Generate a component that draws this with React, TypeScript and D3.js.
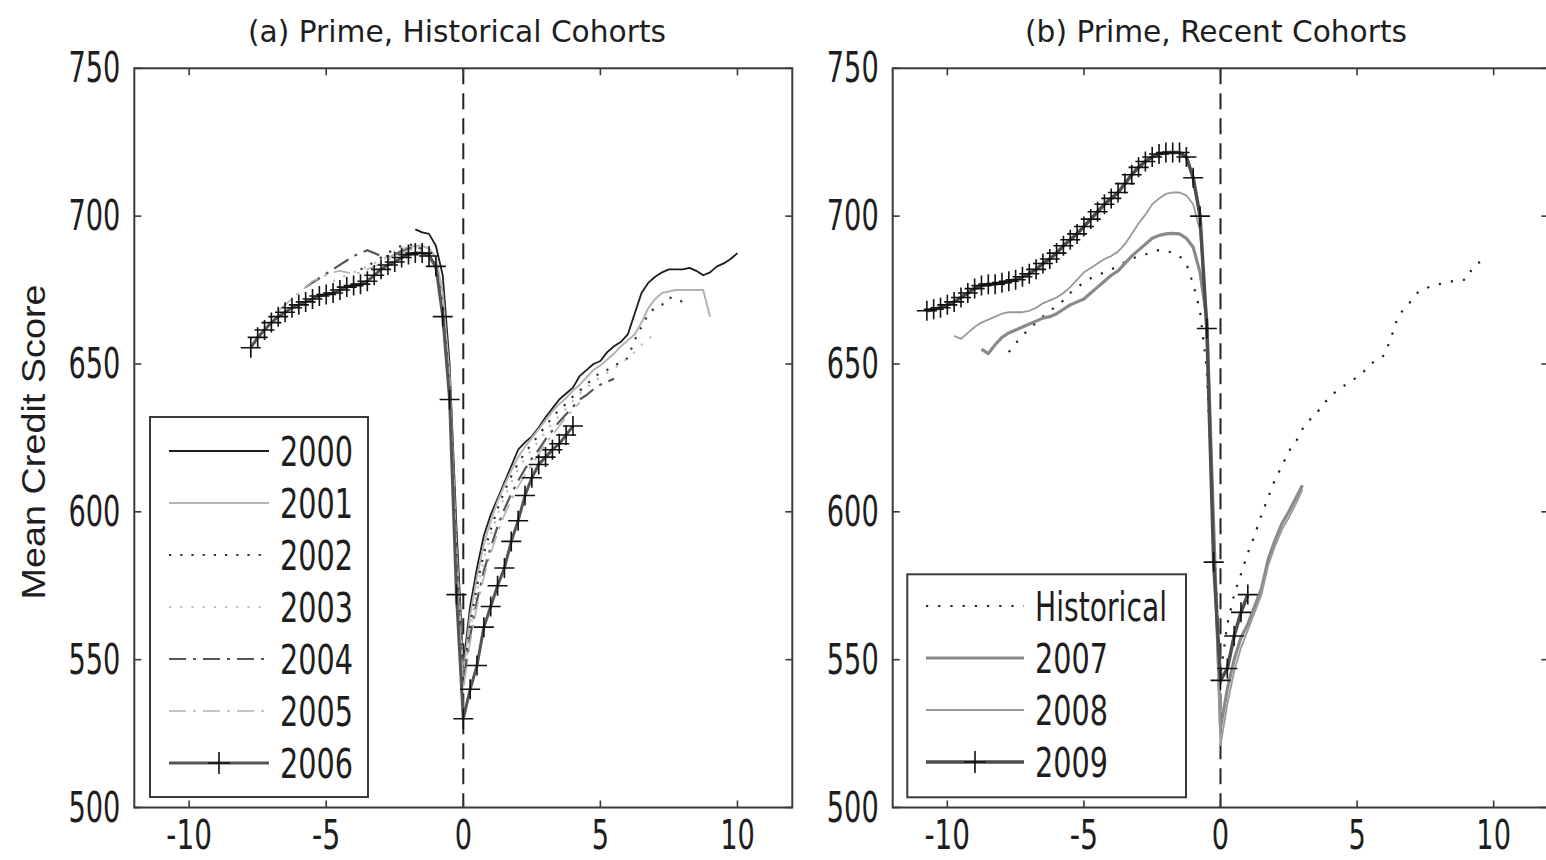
import React from 'react';
import * as d3 from 'd3';

// ---------- data (quarterly observations, years relative to default) ----------
const STEP = 0.25;
const X_TICKS = [-10, -5, 0, 5, 10];
const X_TICK_LABELS = ['-10', '-5', '0', '5', '10'];
const Y_TICKS = [500, 550, 600, 650, 700, 750];
const Y_TICK_LABELS = ['500', '550', '600', '650', '700', '750'];

const TITLE_A = '(a) Prime, Historical Cohorts';
const TITLE_B = '(b) Prime, Recent Cohorts';
const Y_LABEL = 'Mean Credit Score';

const COHORTS_A = ['2000', '2001', '2002', '2003', '2004', '2005', '2006'];
const STARTS_A = [-1.75, -2.75, -3.75, -4.75, -5.75, -6.75, -7.75];

const V2000 = [695.5, 694.5, 694, 690, 680, 650, 595, 548,
  568, 581, 592, 599, 604.5, 610, 615.5, 621, 623.5, 625.5, 628.5, 632, 635, 638, 640, 642,
  646, 648, 650, 651, 654, 656, 657.5, 660, 667, 674, 677.5, 679.5, 681, 682, 682, 682,
  682.5, 681.5, 680, 681, 683, 684, 685.5, 687.5];
const V2001 = [686, 687, 688.5, 689.5, 690, 690, 689, 686, 674, 646, 588, 545,
  565, 578, 589, 597, 603.5, 609, 614, 618.5, 622, 625, 628, 631, 634, 636.5, 638.5, 641,
  643, 645.5, 648, 649.5, 651.5, 653.5, 656, 658, 660, 664, 669, 672, 674, 674.5, 675, 675,
  675, 675, 675, 666];
const V2002 = [682, 683, 684.5, 686, 687.5, 689, 690, 690.5, 690, 689, 687.5, 683, 670, 642, 585, 543,
  562, 575, 586, 594, 601, 607, 612, 616.5, 620, 623, 626, 629, 632, 634.5, 636.5, 639,
  641, 643, 645.5, 647, 648, 649.5, 650.5, 652, 658, 662.5, 667, 669, 670, 672.5, 672, 671];
const V2003 = [678, 679, 680, 681, 682, 683, 684, 685, 686.5, 688, 689, 689.5, 689.5, 688.5, 686.5, 682,
  668, 640, 582, 541,
  560, 573, 584, 592, 599, 605, 610, 614.5, 618, 621, 624, 627, 630, 632.5, 635, 637.5,
  640, 642, 644, 645.5, 647, 648.5, 650, 652, 654, 656.5, 658.5, 660.5];
const V2004 = [676, 677.5, 679, 680.5, 682, 683.5, 685, 686.5, 687.5, 688.5, 687.5, 686.5, 686.5, 687, 688,
  689, 689.5, 689, 687, 683, 668, 640, 582, 542,
  558, 570, 580, 588, 595, 601, 606, 610.5, 614.5, 618, 621, 624.5, 627.5, 630.5, 633, 635.5,
  638, 639.5, 641.5, 643, 644, 645];
const V2005 = [668, 670, 672, 674, 676, 678, 679, 680, 681, 681.5, 681, 680.5, 681, 682, 683, 684, 685,
  686.5, 687.5, 688.5, 689, 688.5, 686.5, 682, 667, 640, 580, 540,
  556, 568, 578, 586, 593, 599, 604, 608.5, 612.5, 616, 619.5, 623, 626, 629, 632, 634.5, 637];
const V2006 = [655.5, 659, 661.5, 664, 666, 667.5, 669, 670, 671, 672, 673, 673.5, 674, 675, 676, 676.5,
  677, 678, 680, 682, 683.5, 684.5, 686, 687, 687.5, 687.5, 686.5, 683, 666, 638, 572, 530,
  540, 548, 561, 568, 575, 581, 590, 597, 605.5, 611.5, 616, 618.5, 621, 623, 626, 629];

const COHORTS_B = ['Historical', '2007', '2008', '2009'];
const STARTS_B = [-7.75, -8.75, -9.75, -10.75];

const VHIST = [654, 657, 659.5, 662, 664, 666, 668, 669.5, 671.5, 674, 676, 677.5, 679, 680, 681, 682,
  683, 684.5, 685.5, 686.5, 687, 688, 688.5, 688.5, 687.5, 686.5, 684, 677, 668, 648, 592, 545,
  562, 572, 579, 586, 592, 599, 605, 611, 615.5, 620.5, 623.5, 628, 631, 633, 636.5, 638.5,
  641, 642.5, 644, 645.5, 647.5, 650, 651.5, 653, 659, 666, 669, 671.5, 674.5, 675.5, 676.5,
  677, 677.5, 678, 678.4, 678.5, 683, 684.5, 686];
const V2007 = [655, 653.5, 656.5, 659, 660.5, 661.5, 662.5, 663.5, 664.5, 665.5, 666, 667, 668.5, 670,
  671, 672, 674, 676, 678, 680, 681.5, 684, 686.5, 688.5, 690.5, 692.5, 693.5, 694, 694.2, 694,
  692.5, 689.5, 681, 665, 595, 527,
  540, 550, 557.5, 562, 568, 574, 584, 590.5, 596, 600, 604.5, 609];
const V2008 = [659.5, 658.5, 660.5, 662.5, 664, 665, 666, 667, 667.5, 667.5, 667.5, 668, 669, 670.5,
  671.5, 672.5, 674, 676, 678.5, 681, 682.5, 684, 685.5, 686.5, 688, 690.5, 694, 697.5, 700.5,
  704, 706, 707.5, 708, 708, 707, 704, 695, 665, 592, 521,
  535, 546, 554, 560, 566, 572, 582, 588.5, 594, 598, 602.5, 607.5];
const V2009 = [668, 668.5, 669, 670, 671, 672.5, 674, 675.5, 676.5, 677, 677, 677.5, 678, 678.5, 679.5,
  680.5, 682, 684, 685.5, 687.5, 690, 692, 694, 696.5, 699, 701.5, 704, 706, 708, 711, 714,
  716.5, 718.5, 720, 721, 721.5, 721.5, 721.5, 720, 713, 700, 662, 583, 543,
  547, 558, 566, 572];

const VALUES_A = [V2000, V2001, V2002, V2003, V2004, V2005, V2006];
const VALUES_B = [VHIST, V2007, V2008, V2009];

// ---------- styles ----------
type Sty = { stroke: string; width: number; dash?: string; marker?: boolean };
const STYLES_A: Sty[] = [
  { stroke: '#1c1c1c', width: 1.8 },
  { stroke: '#b3b3b3', width: 2 },
  { stroke: '#333', width: 2.2, dash: '2.2 9' },
  { stroke: '#bdbdbd', width: 2.2, dash: '2.2 9' },
  { stroke: '#555', width: 2.2, dash: '17 7 3 7' },
  { stroke: '#b3b3b3', width: 1.7, dash: '17 7 3 7' },
  { stroke: '#555', width: 3, marker: true },
];
const STYLES_B: Sty[] = [
  { stroke: '#222', width: 2.2, dash: '2.2 10' },
  { stroke: '#8a8a8a', width: 3.2 },
  { stroke: '#999', width: 1.8 },
  { stroke: '#4d4d4d', width: 3.5, marker: true },
];

const NARROW = "'Liberation Sans Narrow', 'DejaVu Sans Condensed', 'Liberation Sans', sans-serif";
const REG = "'Liberation Sans', Arial, sans-serif";
const TXT = '#1e1e1e';
const FRAME = '#3a3a3a';

const yScale = d3.scaleLinear().domain([500, 750]).range([807.5, 68.3]);

function textW(s: string) {
  let w = 0;
  for (const c of s) w += c === '-' ? 11 : 17.3;
  return w;
}

function pts(start: number, vals: number[]): [number, number][] {
  return vals.map((v, i) => [start + i * STEP, v]);
}

function Plus({ x, y, s = 10 }: { x: number; y: number; s?: number }) {
  return <path d={`M${x - s},${y}H${x + s}M${x},${y - s}V${y + s}`} stroke="#111" strokeWidth={1.6} fill="none" />;
}

function Panel({ x0, x1, title, titleX, titleLen, names, starts, values, styles, legend }: any) {
  const x = d3.scaleLinear().domain([-12, 12]).range([x0, x1]);
  const y = yScale;
  const top = y(750), bot = y(500);
  const line = d3.line<[number, number]>().x(d => x(d[0])).y(d => y(d[1]));
  const clipId = 'clip' + Math.round(x0);
  return (
    <g>
      <defs>
        <clipPath id={clipId}><rect x={x0} y={top} width={x1 - x0} height={bot - top} /></clipPath>
      </defs>
      <text x={titleX} y={41.5} fontFamily={NARROW} fontSize={31} fill={TXT} textAnchor="middle"
        textLength={titleLen} lengthAdjust="spacingAndGlyphs">{title}</text>
      {/* zero line */}
      <line x1={x(0)} x2={x(0)} y1={top} y2={bot} stroke="#222" strokeWidth={2} strokeDasharray="16 9" />
      <g clipPath={`url(#${clipId})`}>
        {values.map((vals: number[], i: number) => {
          const st: Sty = styles[i];
          const p = pts(starts[i], vals);
          return (
            <g key={names[i]}>
              <path d={line(p) || ''} fill="none" stroke={st.stroke} strokeWidth={st.width}
                strokeDasharray={st.dash} strokeLinejoin="round" />
              {st.marker && p.map((d, j) => <Plus key={j} x={x(d[0])} y={y(d[1])} />)}
            </g>
          );
        })}
      </g>
      {/* frame */}
      <rect x={x0} y={top} width={x1 - x0} height={bot - top} fill="none" stroke={FRAME} strokeWidth={2} />
      {X_TICKS.map((t, i) => (
        <g key={'xt' + t}>
          <line x1={x(t)} x2={x(t)} y1={bot} y2={bot - 7} stroke={FRAME} strokeWidth={1.6} />
          <line x1={x(t)} x2={x(t)} y1={top} y2={top + 7} stroke={FRAME} strokeWidth={1.6} />
          <text x={x(t)} y={849} fontFamily={NARROW} fontSize={40} fill={TXT} textAnchor="middle"
            textLength={textW(X_TICK_LABELS[i])} lengthAdjust="spacingAndGlyphs">{X_TICK_LABELS[i]}</text>
        </g>
      ))}
      {Y_TICKS.map((t, i) => (
        <g key={'yt' + t}>
          <line x1={x0} x2={x0 + 7} y1={y(t)} y2={y(t)} stroke={FRAME} strokeWidth={1.6} />
          <line x1={x1} x2={x1 - 7} y1={y(t)} y2={y(t)} stroke={FRAME} strokeWidth={1.6} />
          <text x={x0 - 14} y={y(t) + 14} fontFamily={NARROW} fontSize={42} fill={TXT} textAnchor="end"
            textLength={textW(Y_TICK_LABELS[i])} lengthAdjust="spacingAndGlyphs">{Y_TICK_LABELS[i]}</text>
        </g>
      ))}
      {/* legend */}
      <g>
        <rect x={legend.x} y={legend.y} width={legend.w} height={legend.h} fill="#fff" stroke={FRAME} strokeWidth={2} />
        {names.map((n: string, i: number) => {
          const st: Sty = styles[i];
          const ly = legend.first + i * legend.gap;
          return (
            <g key={'lg' + n}>
              <line x1={legend.lx1} x2={legend.lx2} y1={ly} y2={ly} stroke={st.stroke} strokeWidth={st.width}
                strokeDasharray={st.dash} />
              {st.marker && <Plus x={(legend.lx1 + legend.lx2) / 2} y={ly} s={11} />}
              <text x={legend.tx} y={ly + 14.5} fontFamily={NARROW} fontSize={41} fill={TXT}
                textLength={n === 'Historical' ? 132 : 73} lengthAdjust="spacingAndGlyphs">{n}</text>
            </g>
          );
        })}
      </g>
    </g>
  );
}

export default function App() {
  return (
    <svg width={1546} height={860} style={{ position: 'absolute', left: 0, top: 0, background: '#fff' }}>
      <rect x={0} y={0} width={1546} height={860} fill="#fff" />
      <text transform="translate(45,442) rotate(-90)" fontFamily={REG} fontSize={33} fill={TXT} textAnchor="middle"
        textLength={315} lengthAdjust="spacingAndGlyphs">{Y_LABEL}</text>
      <Panel x0={134.3} x1={792.3} title={TITLE_A} titleX={457} titleLen={418}
        names={COHORTS_A} starts={STARTS_A} values={VALUES_A} styles={STYLES_A}
        legend={{ x: 150, y: 417, w: 218, h: 380, first: 451, gap: 52, lx1: 169, lx2: 269, tx: 280 }} />
      <Panel x0={892.7} x1={1548.3} title={TITLE_B} titleX={1216} titleLen={382}
        names={COHORTS_B} starts={STARTS_B} values={VALUES_B} styles={STYLES_B}
        legend={{ x: 907.3, y: 574.3, w: 278.7, h: 223, first: 606, gap: 52, lx1: 926, lx2: 1024, tx: 1035 }} />
    </svg>
  );
}
